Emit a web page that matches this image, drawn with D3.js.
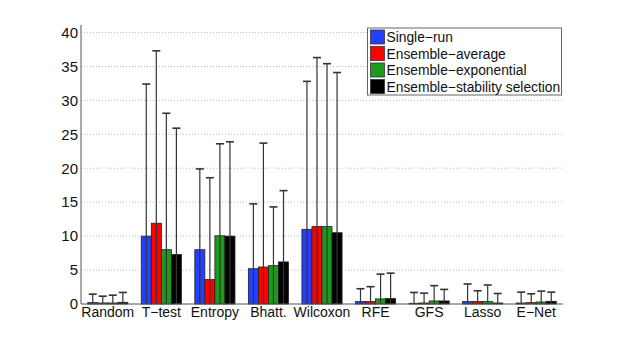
<!DOCTYPE html>
<html><head><meta charset="utf-8">
<script src="https://cdn.jsdelivr.net/npm/d3@7"></script>
<style>body{margin:0;background:#fff}svg{display:block}text{font-family:"Liberation Sans",Arial,sans-serif;fill:#111}</style>
</head><body><svg id="c" width="623" height="342"></svg>
<script>
const categories = ["Random","T\u2212test","Entropy","Bhatt.","Wilcoxon","RFE","GFS","Lasso","E\u2212Net"];
const seriesNames = ["Single\u2212run","Ensemble\u2212average","Ensemble\u2212exponential","Ensemble\u2212stability selection"];
const seriesColors = ["#2340ff","#ff0000","#1d9a1d","#000000"];
// mean values per series (rows) for each category
const singleRun   = [0.2, 10.0, 8.0, 5.2, 11.0, 0.35, 0.1, 0.35, 0.15];
const ensAverage  = [0.15, 11.9, 3.6, 5.45, 11.4, 0.35, 0.15, 0.35, 0.2];
const ensExpon    = [0.15, 8.0, 10.05, 5.65, 11.4, 0.75, 0.45, 0.35, 0.3];
const ensStab     = [0.25, 7.3, 10.0, 6.2, 10.5, 0.8, 0.45, 0.15, 0.4];
// upper end of error bars
const singleRunTop  = [1.45, 32.4, 19.9, 14.75, 32.8, 2.25, 1.7, 2.95, 1.75];
const ensAverageTop = [1.15, 37.3, 18.6, 23.7, 36.3, 2.55, 1.6, 1.95, 1.5];
const ensExponTop   = [1.3, 28.1, 23.6, 14.3, 35.4, 4.4, 2.7, 2.8, 1.9];
const ensStabTop    = [1.7, 25.9, 23.9, 16.7, 34.1, 4.55, 2.15, 1.55, 1.75];
const yTicks = [0,5,10,15,20,25,30,35,40];

const means = [singleRun, ensAverage, ensExpon, ensStab];
const tops = [singleRunTop, ensAverageTop, ensExponTop, ensStabTop];

const svg = d3.select("#c");
const L = 81, R = 563, T = 25, B = 304;
const x = d3.scaleBand().domain(categories).range([L, R]).paddingInner(0.25).paddingOuter(0.125);
const xs = d3.scaleBand().domain(d3.range(4)).range([0, x.bandwidth()]);
const y = d3.scaleLinear().domain([0, 41.1]).range([B, T]);

// grid
svg.append("g").selectAll("line").data(yTicks.filter(d => d > 0)).join("line")
  .attr("x1", L).attr("x2", R).attr("y1", d => y(d)).attr("y2", d => y(d))
  .attr("stroke", "#bbb").attr("stroke-width", 1).attr("stroke-dasharray", "1,2");

// bars
const g = svg.append("g");
categories.forEach((c, i) => {
  means.forEach((s, k) => {
    g.append("rect")
      .attr("x", x(c) + xs(k)).attr("width", xs.bandwidth())
      .attr("y", y(s[i])).attr("height", y(0) - y(s[i]))
      .attr("fill", seriesColors[k]).attr("stroke", "#222").attr("stroke-width", 0.8);
  });
});
// error bars
categories.forEach((c, i) => {
  means.forEach((s, k) => {
    const cx = x(c) + xs(k) + xs.bandwidth() / 2;
    const std = tops[k][i] - s[i];
    const lo = Math.max(0, s[i] - std);
    g.append("line").attr("x1", cx).attr("x2", cx).attr("y1", y(lo)).attr("y2", y(tops[k][i]))
      .attr("stroke", "#333").attr("stroke-width", 1.2);
    g.append("line").attr("x1", cx - 4).attr("x2", cx + 4).attr("y1", y(tops[k][i])).attr("y2", y(tops[k][i]))
      .attr("stroke", "#333").attr("stroke-width", 1.6);
  });
});

// axes
svg.append("line").attr("x1", L).attr("x2", L).attr("y1", T).attr("y2", B).attr("stroke", "#555").attr("stroke-width", 1);
svg.append("line").attr("x1", L).attr("x2", R).attr("y1", B).attr("y2", B).attr("stroke", "#555").attr("stroke-width", 1);
const ya = d3.axisLeft(y).tickValues(yTicks).tickSize(0).tickPadding(3);
const yg = svg.append("g").attr("transform", `translate(${L},0)`).call(ya);
yg.select(".domain").remove();
yg.selectAll("text").style("font-size", "15px").attr("fill", "#111");
const xa = d3.axisBottom(x).tickSize(0).tickPadding(3);
const xg = svg.append("g").attr("transform", `translate(0,${B})`).call(xa);
xg.select(".domain").remove();
xg.selectAll("text").style("font-size", "14px").attr("fill", "#111");

// legend
const lg = svg.append("g");
lg.append("rect").attr("x", 367.5).attr("y", 28).attr("width", 194).attr("height", 67)
  .attr("fill", "#fff").attr("stroke", "#666").attr("stroke-width", 1);
seriesNames.forEach((n, k) => {
  const yy = 30 + k * 16.5;
  lg.append("rect").attr("x", 370.5).attr("y", yy).attr("width", 14).attr("height", 14)
    .attr("fill", seriesColors[k]).attr("stroke", "#333").attr("stroke-width", 0.8);
  lg.append("text").attr("x", 386.5).attr("y", yy + 12).text(n).style("font-size", "13.8px");
});
</script></body></html>
